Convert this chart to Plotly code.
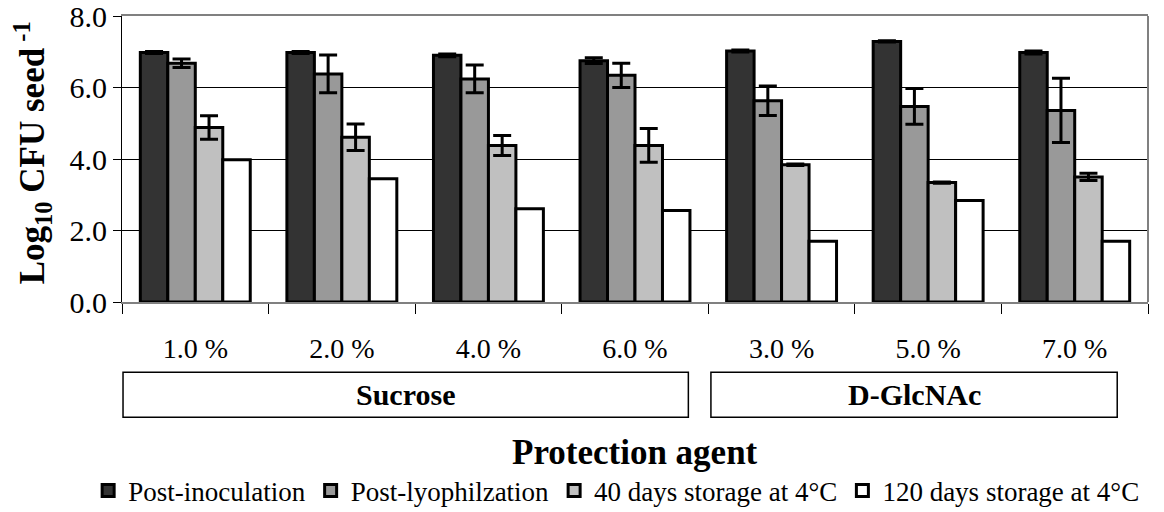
import plotly.graph_objects as go

categories = ["1.0 %", "2.0 %", "4.0 %", "6.0 %", "3.0 %", "5.0 %", "7.0 %"]
series_names = ["Post-inoculation", "Post-lyophilzation", "40 days storage at 4°C", "120 days storage at 4°C"]

post_inoculation = [6.98, 6.98, 6.90, 6.75, 7.02, 7.29, 6.98]
post_inoculation_err = [0.03, 0.03, 0.04, 0.08, 0.03, 0.02, 0.04]
post_lyophilization = [6.68, 6.38, 6.24, 6.34, 5.63, 5.47, 5.36]
post_lyophilization_err = [0.12, 0.53, 0.39, 0.34, 0.41, 0.50, 0.90]
storage_40 = [4.88, 4.61, 4.38, 4.38, 3.84, 3.34, 3.50]
storage_40_err = [0.33, 0.37, 0.28, 0.47, 0.02, 0.02, 0.10]
storage_120 = [3.98, 3.45, 2.61, 2.56, 1.70, 2.84, 1.70]

group_labels = ["Sucrose", "D-GlcNAc"]
colors = ["#333333", "#999999", "#c0c0c0", "#ffffff"]

FONT = "Liberation Serif"

fig = go.Figure()
data = [
    (post_inoculation, post_inoculation_err),
    (post_lyophilization, post_lyophilization_err),
    (storage_40, storage_40_err),
    (storage_120, None),
]
for name, (vals, err), col in zip(series_names, data, colors):
    fig.add_trace(go.Bar(
        x=categories, y=vals, name=name,
        marker=dict(color=col, line=dict(color="black", width=3)),
        error_y=dict(type="data", array=err, visible=err is not None,
                     color="black", thickness=3, width=9),
    ))

fig.update_layout(
    width=1164, height=512,
    margin=dict(l=122, r=16, t=16, b=210, autoexpand=False),
    paper_bgcolor="white", plot_bgcolor="white",
    barmode="group", bargap=0.25, bargroupgap=0,
    font=dict(family=FONT, color="black"),
    showlegend=True,
    legend=dict(orientation="h", x=-0.033, xanchor="left", y=-0.661, yanchor="middle",
                font=dict(size=27, family=FONT), itemwidth=30, tracegroupgap=0,
                bgcolor="rgba(0,0,0,0)"),
    xaxis=dict(
        type="category", showline=True, linecolor="#808080", linewidth=2, mirror=True,
        ticks="outside", tickson="boundaries", ticklen=10, tickcolor="black", tickwidth=1,
        tickfont=dict(size=28, family=FONT), ticklabelstandoff=20,
        showgrid=False, zeroline=False, automargin=False,
    ),
    yaxis=dict(
        range=[0, 8], dtick=2, tickformat=".1f",
        showline=True, linecolor="black", linewidth=1,
        ticks="outside", ticklen=8, tickcolor="black",
        tickfont=dict(size=30, family=FONT), automargin=False, ticklabeloverflow="allow",
        showgrid=True, gridcolor="black", gridwidth=1, zeroline=False,
    ),
)

# right border of the plot area
fig.add_shape(type="line", xref="paper", yref="paper", x0=1, x1=1, y0=0, y1=1,
              line=dict(color="#808080", width=2))

# group boxes
boxes = [(0.001, 0.552), (0.574, 0.970)]
for (x0, x1), label in zip(boxes, group_labels):
    fig.add_shape(type="rect", xref="paper", yref="paper", x0=x0, x1=x1, y0=-0.403, y1=-0.246,
                  line=dict(color="black", width=1.5), fillcolor="white")
    fig.add_annotation(xref="paper", yref="paper", x=(x0 + x1) / 2, y=-0.3245,
                       text="<b>%s</b>" % label, showarrow=False,
                       font=dict(size=30, family=FONT), xanchor="center", yanchor="middle")

fig.add_annotation(xref="paper", yref="paper", x=0.5, y=-0.526, text="<b>Protection agent</b>",
                   showarrow=False, font=dict(size=35, family=FONT), xanchor="center", yanchor="middle")

fig.add_annotation(xref="paper", yref="paper", x=-0.0877, y=0.52,
                   text="<b>Log<sub>10</sub> CFU seed<sup> -1</sup></b>", textangle=-90,
                   showarrow=False, font=dict(size=35, family=FONT), xanchor="center", yanchor="middle")

fig.write_html("out.html", config={"displayModeBar": False},
               post_script="document.body.style.margin='0';")
